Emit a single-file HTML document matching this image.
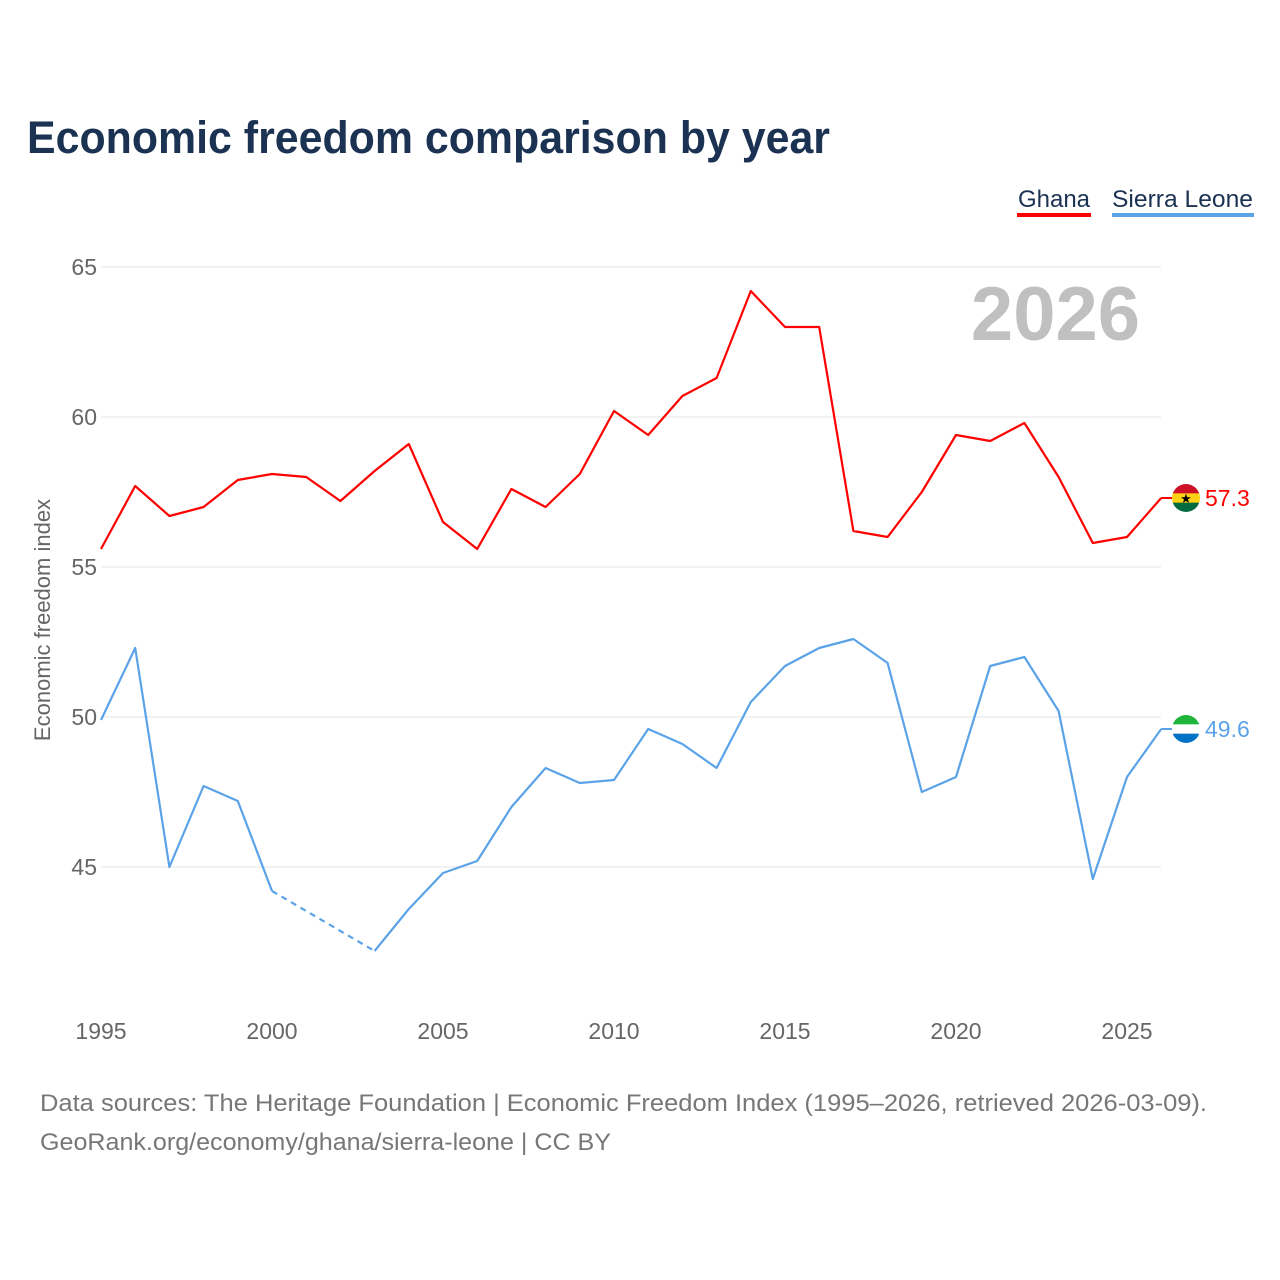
<!DOCTYPE html>
<html><head><meta charset="utf-8">
<style>
body{margin:0;background:#fff;font-family:"Liberation Sans",sans-serif;}
#wrap{position:relative;width:1280px;height:1280px;overflow:hidden;}
</style></head>
<body>
<div id="wrap">
<svg id="chart" width="1280" height="1280">
<text x="27" y="153" font-size="45" font-weight="bold" fill="#1b3252" textLength="803" lengthAdjust="spacingAndGlyphs">Economic freedom comparison by year</text>
<g>
<text x="1018" y="207" font-size="24" fill="#1b3252" textLength="72" lengthAdjust="spacingAndGlyphs">Ghana</text>
<rect x="1017" y="213" width="74" height="4" fill="#ff0000"/></g>
<g>
<text x="1112" y="207" font-size="24" fill="#1b3252" textLength="141" lengthAdjust="spacingAndGlyphs">Sierra Leone</text>
<rect x="1112" y="213" width="142" height="4" fill="#5ba3e8"/></g>
<text x="1140" y="340" font-size="76" font-weight="bold" fill="#c0c0c0" text-anchor="end">2026</text>
<text transform="translate(50,620) rotate(-90)" font-size="22" fill="#666" text-anchor="middle">Economic freedom index</text>
<g id="grid"></g><g id="series"></g>
<text x="40" y="1111" font-size="24" fill="#777" textLength="1167" lengthAdjust="spacingAndGlyphs">Data sources: The Heritage Foundation | Economic Freedom Index (1995–2026, retrieved 2026-03-09).</text>
<text x="40" y="1150" font-size="24" fill="#777" textLength="571" lengthAdjust="spacingAndGlyphs">GeoRank.org/economy/ghana/sierra-leone | CC BY</text>
</svg>
</div>
<script>
const years=[1995,1996,1997,1998,1999,2000,2001,2002,2003,2004,2005,2006,2007,2008,2009,2010,2011,2012,2013,2014,2015,2016,2017,2018,2019,2020,2021,2022,2023,2024,2025,2026];
const ghana=[55.6,57.7,56.7,57.0,57.9,58.1,58.0,57.2,58.2,59.1,56.5,55.6,57.6,57.0,58.1,60.2,59.4,60.7,61.3,64.2,63.0,63.0,56.2,56.0,57.5,59.4,59.2,59.8,58.0,55.8,56.0,57.3];
const sierra=[49.9,52.3,45.0,47.7,47.2,44.2,null,null,42.2,43.6,44.8,45.2,47.0,48.3,47.8,47.9,49.6,49.1,48.3,50.5,51.7,52.3,52.6,51.8,47.5,48.0,51.7,52.0,50.2,44.6,48.0,49.6];
const yTicks=[45,50,55,60,65];
const xTicks=[1995,2000,2005,2010,2015,2020,2025];
const NS="http://www.w3.org/2000/svg";
const X=y=>101+(y-1995)*34.2;
const Y=v=>267+(65-v)*30;
function mk(t,a,p){const e=document.createElementNS(NS,t);for(const k in a)e.setAttribute(k,a[k]);p.appendChild(e);return e;}
const grid=document.getElementById('grid'),ser=document.getElementById('series');
yTicks.forEach(v=>{
 const l=mk('line',{x1:101,x2:1161,y1:Y(v),y2:Y(v),stroke:'#e6e6e6','stroke-width':1},grid);
 
 
 const t=mk('text',{x:97,y:Y(v)+8,'font-size':23,fill:'#666','text-anchor':'end'},grid);t.textContent=v;
 
 
});
xTicks.forEach(v=>{
 const t=mk('text',{x:X(v),y:1039,'font-size':23,fill:'#666','text-anchor':'middle'},grid);t.textContent=v;
 
 
});
function draw(vals,color,name){
 let segs=[],cur=[];
 vals.forEach((v,i)=>{if(v==null){if(cur.length)segs.push(cur);cur=[];}else cur.push([X(years[i]),Y(v)]);});
 if(cur.length)segs.push(cur);
 segs.forEach(s=>{const p=mk('polyline',{points:s.map(q=>q.join(',')).join(' '),fill:'none',stroke:color,'stroke-width':2.2,'stroke-linejoin':'round'},ser);
  
  });
 for(let i=1;i<segs.length;i++){const a=segs[i-1][segs[i-1].length-1],b=segs[i][0];
  const d=mk('line',{x1:a[0],y1:a[1],x2:b[0],y2:b[1],stroke:color,'stroke-width':2.2,'stroke-dasharray':'6,5'},ser);
  
  }
 const last=vals[vals.length-1],ly=Y(last);
 mk('line',{x1:X(2026),y1:ly,x2:1172,y2:ly,stroke:color,'stroke-width':2},ser);
 const lab=mk('text',{x:1205,y:ly+8,'font-size':23,fill:color},ser);lab.textContent=last.toFixed(1);
 
 
 return ly;
}
const gy=draw(ghana,'#ff0000','ghana');
const sy=draw(sierra,'#5ba3e8','sierra-leone');
function flag(cy,cols,name,star){
 const g=mk('g',{},ser);
 
 
 const id='c'+name;const cp=mk('clipPath',{id:id},g);mk('circle',{cx:1186,cy:cy,r:14},cp);
 cols.forEach((c,i)=>mk('rect',{x:1172,y:cy-14+i*28/3,width:28,height:28/3+0.5,fill:c,'clip-path':'url(#'+id+')'},g));
 if(star){const t=mk('text',{x:1186,y:cy+5,'font-size':13,'text-anchor':'middle',fill:'#000'},g);t.textContent='★';}
}
flag(gy,['#ce1126','#fcd116','#006b3f'],'ghana-flag',true);
flag(sy,['#1eb53a','#ffffff','#0072c6'],'sierra-leone-flag',false);
</script>
</body></html>
